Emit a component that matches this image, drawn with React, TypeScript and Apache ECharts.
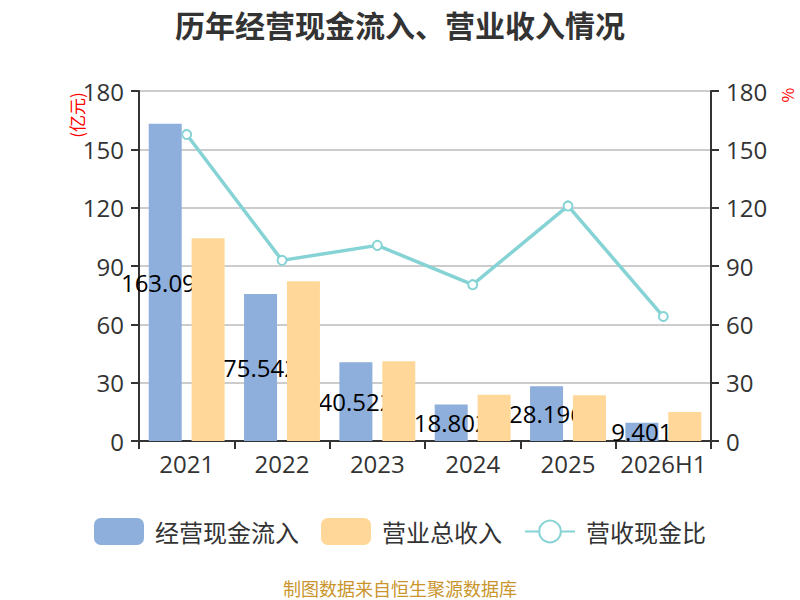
import React, { useEffect, useRef } from "react";
import * as echarts from "echarts";

const categories = ["2021", "2022", "2023", "2024", "2025", "2026H1"];
const cashInflow = [163.094, 75.542, 40.522, 18.802, 28.196, 9.401];
const revenue = [104.3, 82.1, 41.0, 23.8, 23.5, 14.9];
const ratio = [157.6, 92.9, 100.6, 80.4, 120.9, 64.0];
const yTicks = { min: 0, max: 180, interval: 30 };

const FONT = "'Noto Sans CJK SC', 'Noto Sans', sans-serif";
const NUM_FONT = "'Open Sans', 'Noto Sans CJK SC', sans-serif";

export default function App() {
  const ref = useRef<HTMLDivElement>(null);
  useEffect(() => {
    document.body.style.margin = "0";
    const chart = echarts.init(ref.current!, undefined, { renderer: "svg" });
    const axisCommon = {
      type: "value",
      min: yTicks.min,
      max: yTicks.max,
      interval: yTicks.interval,
      axisLine: { show: true, lineStyle: { color: "#333", width: 2 } },
      axisTick: { show: true, length: 8, lineStyle: { color: "#333", width: 2 } },
      axisLabel: { color: "#333", fontSize: 24, margin: 15, fontFamily: NUM_FONT },
    };
    chart.setOption({
      animation: false,
      textStyle: { fontFamily: FONT },
      title: {
        text: "历年经营现金流入、营业收入情况",
        left: "center",
        top: 4,
        textStyle: { fontSize: 30, fontWeight: "bold", color: "#333", fontFamily: FONT },
      },
      legend: {
        bottom: 50,
        left: "center",
        itemWidth: 50,
        itemHeight: 27,
        itemGap: 22,
        textStyle: { fontSize: 24, color: "#333", fontFamily: FONT, padding: [0, 0, 0, 6] },
        data: [
          { name: "经营现金流入", itemStyle: { borderRadius: 6 } },
          { name: "营业总收入", itemStyle: { borderRadius: 6 } },
          { name: "营收现金比" },
        ],
      },
      grid: { left: 139, right: 89, top: 91, bottom: 159 },
      xAxis: {
        type: "category",
        data: categories,
        axisLine: { lineStyle: { color: "#333", width: 2 } },
        axisTick: { show: true, length: 8, lineStyle: { color: "#333", width: 2 } },
        axisLabel: { color: "#333", fontSize: 24, margin: 10, interval: 0, fontFamily: NUM_FONT },
      },
      yAxis: [
        {
          ...axisCommon,
          position: "left",
          splitLine: { show: true, lineStyle: { color: "#ccc", width: 2 } },
        },
        {
          ...axisCommon,
          position: "right",
          splitLine: { show: false },
        },
      ],
      graphic: [
        {
          type: "text",
          x: 76,
          y: 115,
          rotation: Math.PI / 2,
          style: {
            text: "(亿元)",
            fill: "#ff0000",
            fontSize: 17,
            fontFamily: FONT,
            align: "center",
            verticalAlign: "middle",
          },
        },
        {
          type: "text",
          x: 787,
          y: 95,
          rotation: Math.PI / 2,
          style: {
            text: "%",
            fill: "#ff0000",
            fontSize: 16,
            fontFamily: FONT,
            align: "center",
            verticalAlign: "middle",
          },
        },
        {
          type: "text",
          x: 400,
          y: 588,
          style: {
            text: "制图数据来自恒生聚源数据库",
            fill: "#c9952c",
            fontSize: 18,
            fontFamily: FONT,
            align: "center",
            verticalAlign: "middle",
          },
        },
      ],
      series: [
        {
          name: "经营现金流入",
          type: "bar",
          z: 2,
          data: cashInflow,
          barWidth: 33,
          barGap: "30%",
          itemStyle: { color: "#8eaedb" },
          label: {
            show: true,
            position: "inside",
            color: "#000",
            fontSize: 24,
            fontFamily: NUM_FONT,
          },
        },
        {
          name: "营业总收入",
          type: "bar",
          z: 3,
          data: revenue,
          barWidth: 33,
          barGap: "30%",
          itemStyle: { color: "#ffd899" },
        },
        {
          name: "营收现金比",
          type: "line",
          z: 4,
          yAxisIndex: 1,
          data: ratio,
          symbol: "emptyCircle",
          symbolSize: 9,
          lineStyle: { color: "#86d3d6", width: 3.5 },
          itemStyle: { color: "#86d3d6", borderWidth: 2 },
        },
      ],
    });
    return () => chart.dispose();
  }, []);
  return <div ref={ref} style={{ width: 800, height: 600 }} />;
}
